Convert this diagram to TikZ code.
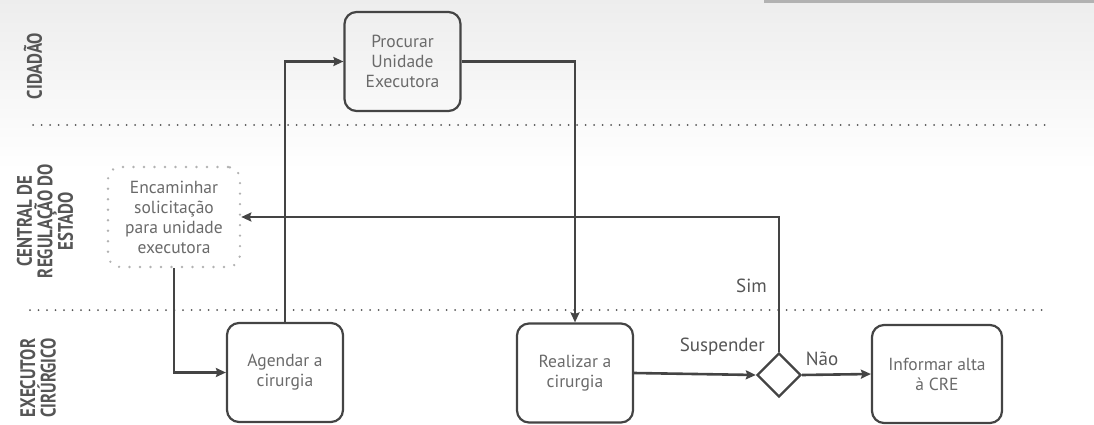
\documentclass[tikz,border=0pt]{standalone}
\usepackage{fontspec}
\setmainfont{PT Sans}
\newfontfamily\lanefont[FakeStretch=0.8]{PT Sans Bold}
\usetikzlibrary{arrows.meta,shapes.geometric}

\definecolor{linegray}{HTML}{444444}
\definecolor{boxtext}{HTML}{6A6A6A}
\definecolor{lanegray}{HTML}{555555}

\tikzset{
  task/.style = {draw=linegray, line width=2.2pt, rounded corners=12pt,
    minimum width=116pt, minimum height=99pt, align=center,
    text=boxtext, font=\fontsize{17.5}{20}\selectfont},
  ghost/.style = {task, draw=gray!60, line width=2.6pt, line cap=round,
    dash pattern=on 0pt off 10.5pt, minimum width=132pt, minimum height=100pt},
  gate/.style = {diamond, aspect=1, draw=linegray, line width=2.4pt,
    minimum width=44pt, minimum height=44pt, inner sep=0pt},
  lane/.style = {rotate=90, align=center, text=lanegray,
    font=\lanefont\fontsize{21}{20.5}\selectfont},
  flow/.style = {draw=linegray, line width=2.6pt,
    -{Stealth[length=10pt, width=9pt, inset=1.5pt]}},
  lbl/.style = {text=lanegray, font=\fontsize{19}{20}\selectfont, inner sep=1pt},
  sep/.style = {draw=lanegray, line width=2pt, line cap=round,
    dash pattern=on 0pt off 8.5pt}
}

\begin{document}
\begin{tikzpicture}[x=1pt, y=-1pt]
  \useasboundingbox (0,0) rectangle (1094,425);
  \shade[top color=black!7, bottom color=white] (0,0) rectangle (1094,170);
  \fill[gray!60] (764,0) rectangle (1094,3);

  % lanes
  \draw[sep] (33,125) -- (1047,125);
  \draw[sep] (30,310) -- (1045,310);
  \node[lane] (lcid) at (33,66) {CIDAD\~AO};
  \node[lane] (lcre) at (45,221) {CENTRAL DE\\REGULA\c{C}\~AO DO\\ESTADO};
  \node[lane] (lexe) at (38,378) {EXECUTOR\\CIR\'URGICO};

  % tasks
  \node[task] (proc) at (402.5,61.5) {Procurar\\Unidade\\Executora};
  \node[ghost] (enc) at (174,217) {Encaminhar\\solicitação\\para unidade\\executora};
  \node[task] (ag) at (285,372.5) {Agendar a\\cirurgia};
  \node[task] (real) at (575,373) {Realizar a\\cirurgia};
  \node[gate] (dec) at (779,375) {};
  \node[task, minimum width=130pt, minimum height=98pt] (inf) at (937,374) {Informar alta\\à CRE};

  % flow
  \draw[flow] (ag.north) |- (proc.west);
  \draw[flow] (proc.east) -| (real.north);
  \draw[flow] (dec.north) |- (enc.east);
  \draw[flow] (enc.south) |- (ag.west);
  \draw[flow] (real.east) -- (dec.west);
  \draw[flow] (dec.east) -- (inf.west);

  \node[lbl, anchor=east] (lsus) at (766,347) {Suspender};
  \node[lbl, anchor=east] (lsim) at (768,286) {Sim};
  \node[lbl] (lnao) at (822,359) {Não};
\end{tikzpicture}
\end{document}
